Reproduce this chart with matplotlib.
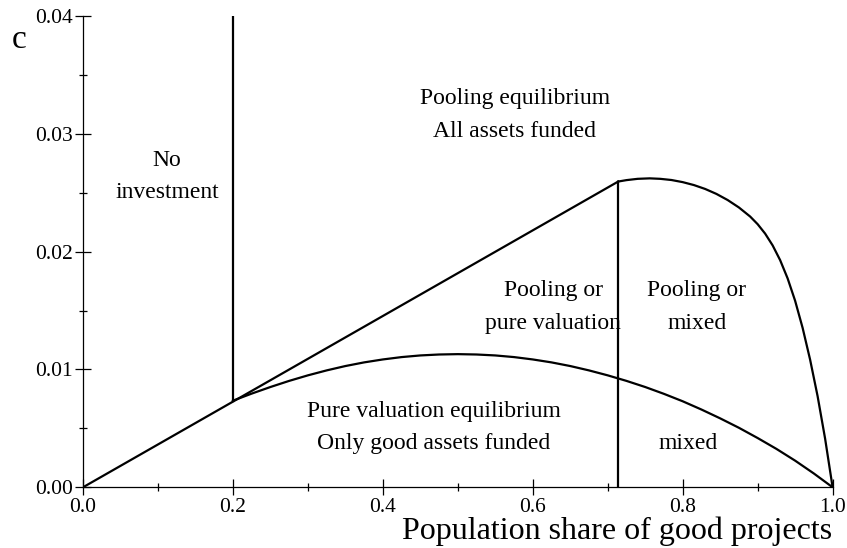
import matplotlib
matplotlib.use("Agg")
import matplotlib.pyplot as plt
from matplotlib.ticker import MultipleLocator, FormatStrFormatter

plt.rcParams['font.family'] = ['Liberation Serif', 'DejaVu Serif']

# boundary values
cutoff_low = 0.2          # no investment to the left of this share
cutoff_low_c = 0.00735
cutoff_high = 0.714       # pooling line ends here
cutoff_high_c = 0.02595
pool_line_x = [0.0, 0.714]
pool_line_y = [0.0, 0.02595]

lower_x = [0.2, 0.225, 0.25, 0.275, 0.3, 0.325, 0.35, 0.375, 0.4, 0.425,
           0.45, 0.475, 0.5, 0.525, 0.55, 0.575, 0.6, 0.625, 0.65, 0.675,
           0.7, 0.725, 0.75, 0.775, 0.8, 0.825, 0.85, 0.875, 0.9, 0.925,
           0.95, 0.975, 1.0]
lower_y = [0.00735, 0.00795, 0.00851, 0.00903, 0.00950, 0.00992, 0.01029,
           0.01060, 0.01085, 0.01105, 0.01119, 0.01127, 0.01130, 0.01127,
           0.01119, 0.01105, 0.01085, 0.01060, 0.01029, 0.00992, 0.00950,
           0.00903, 0.00851, 0.00793, 0.00730, 0.00660, 0.00585, 0.00505,
           0.00418, 0.00326, 0.00226, 0.00117, 0.0]

upper_x = [0.714, 0.725, 0.74, 0.756, 0.77, 0.785, 0.80, 0.815, 0.83, 0.845,
           0.86, 0.875, 0.89, 0.90, 0.91, 0.92, 0.93, 0.94, 0.95, 0.96,
           0.97, 0.98, 0.99, 1.0]
upper_y = [0.02595, 0.02607, 0.02618, 0.02622, 0.02618, 0.02608, 0.02590,
           0.02565, 0.02532, 0.02490, 0.02438, 0.02375, 0.02298, 0.02233,
           0.02153, 0.02053, 0.01928, 0.01773, 0.01583, 0.01353, 0.01083,
           0.00773, 0.00413, 0.0]

region_labels = ["Pooling equilibrium\nAll assets funded",
                 "No\ninvestment",
                 "Pooling or\npure valuation",
                 "Pooling or\nmixed",
                 "Pure valuation equilibrium\nOnly good assets funded",
                 "mixed"]
label_x = [0.576, 0.112, 0.627, 0.819, 0.468, 0.807]
label_y = [0.0316, 0.0264, 0.0153, 0.0153, 0.0051, 0.0037]

fig = plt.figure(figsize=(8.47, 5.48), dpi=100)
ax = fig.add_axes([0.098, 0.1108, 0.885, 0.860])

lw = 1.6
ax.plot(pool_line_x, pool_line_y, color='black', lw=lw)
ax.plot(lower_x, lower_y, color='black', lw=lw)
ax.plot(upper_x, upper_y, color='black', lw=lw)
ax.plot([cutoff_low, cutoff_low], [cutoff_low_c, 0.04], color='black', lw=lw)
ax.plot([cutoff_high, cutoff_high], [0.0, cutoff_high_c], color='black', lw=lw)

for txt, x, y in zip(region_labels, label_x, label_y):
    ax.text(x, y, txt, ha='center', va='center', fontsize=17,
            linespacing=1.7)

ax.set_xlim(0, 1.0)
ax.set_ylim(0, 0.04)
for s in ['top', 'right']:
    ax.spines[s].set_visible(False)
for s in ['left', 'bottom']:
    ax.spines[s].set_linewidth(0.9)

ax.xaxis.set_major_locator(MultipleLocator(0.2))
ax.xaxis.set_minor_locator(MultipleLocator(0.1))
ax.yaxis.set_major_locator(MultipleLocator(0.01))
ax.yaxis.set_minor_locator(MultipleLocator(0.005))
ax.xaxis.set_major_formatter(FormatStrFormatter('%.1f'))
ax.yaxis.set_major_formatter(FormatStrFormatter('%.2f'))
ax.tick_params(which='major', direction='inout', length=11, width=0.9,
               labelsize=15.5)
ax.tick_params(which='minor', direction='inout', length=6, width=0.9)
ax.tick_params(axis='x', which='major', pad=2.5)
ax.tick_params(axis='y', which='major', pad=2)

fig.text(0.022, 0.928, "c", fontsize=24, ha='center', va='center')
fig.text(0.983, 0.017, "Population share of good projects", fontsize=23,
         ha='right', va='baseline')

fig.savefig("out.png", dpi=100)
